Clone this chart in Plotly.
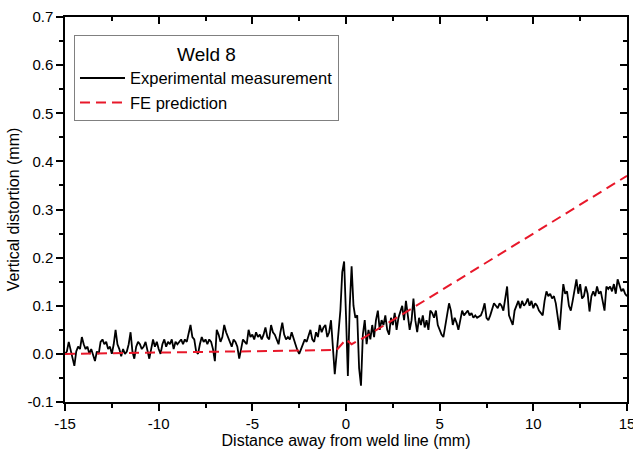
import numpy as np
import plotly.graph_objects as go

# Experimental measurement, sampled every 0.1 mm from -15 to 15 mm
exp_y = [
    # -15.0 .. -9.0
    0.000, 0.005, 0.025, 0.010, -0.005, -0.025, 0.005, 0.015, 0.010, 0.035,
    0.020, 0.010, 0.015, 0.000, 0.010, -0.005, -0.015, 0.005, 0.000, 0.025,
    0.030, 0.020, 0.025, 0.010, 0.015, 0.000, 0.020, 0.050, 0.020, 0.010,
    -0.005, 0.010, 0.000, 0.005, 0.020, 0.045, 0.005, -0.010, 0.015, 0.025,
    0.020, 0.010, 0.015, 0.025, 0.005, -0.010, 0.010, 0.030, 0.015, 0.025,
    0.010, 0.000, 0.020, 0.030, 0.015, 0.025, 0.020, 0.030, 0.010, 0.025,
    0.020,
    # -8.9 .. -3.0
    0.025, 0.030, 0.020, 0.030, 0.025, 0.040, 0.060, 0.035, 0.030, 0.005,
    0.000, 0.020, 0.035, 0.025, 0.030, 0.020, 0.030, 0.025, 0.010, -0.015,
    0.050, 0.040, 0.025, 0.035, 0.060, 0.045, 0.035, 0.025, 0.015, 0.030,
    0.025, 0.015, -0.010, 0.010, 0.030, 0.025, 0.020, 0.050, 0.035, 0.040,
    0.030, 0.045, 0.035, 0.040, 0.030, 0.040, 0.055, 0.035, 0.030, 0.060,
    0.045, 0.040, 0.030, 0.020, 0.045, 0.065, 0.040, 0.030, 0.035, 0.030,
    # -2.9 .. 3.0
    0.045, 0.030, 0.020, 0.008, 0.000, 0.010, 0.020, 0.030, 0.025, 0.040,
    0.050, 0.030, 0.025, 0.045, 0.035, 0.060, 0.045, 0.055, 0.060, 0.035,
    0.045, 0.070, 0.020, -0.042, 0.000, 0.040, 0.090, 0.170, 0.192, 0.080,
    -0.046, 0.100, 0.182, 0.100, 0.075, 0.080, -0.030, -0.066, 0.040, 0.070,
    0.020, 0.050, 0.030, 0.060, 0.035, 0.070, 0.090, 0.050, 0.070, 0.060,
    0.080, 0.050, 0.040, 0.075, 0.060, 0.085, 0.050, 0.075, 0.090, 0.100,
    # 3.1 .. 9.0
    0.070, 0.110, 0.080, 0.050, 0.070, 0.115, 0.070, 0.045, 0.075, 0.060,
    0.080, 0.055, 0.070, 0.050, 0.090, 0.085, 0.075, 0.090, 0.060, 0.050,
    0.040, 0.035, 0.060, 0.080, 0.105, 0.090, 0.060, 0.075, 0.065, 0.050,
    0.070, 0.090, 0.080, 0.085, 0.090, 0.080, 0.085, 0.075, 0.080, 0.075,
    0.078, 0.080, 0.090, 0.105, 0.075, 0.070, 0.080, 0.095, 0.105, 0.100,
    0.095, 0.105, 0.100, 0.090, 0.120, 0.140, 0.080, 0.070, 0.060, 0.090,
    # 9.1 .. 15.0
    0.100, 0.110, 0.095, 0.110, 0.100, 0.105, 0.115, 0.100, 0.110, 0.095,
    0.105, 0.100, 0.090, 0.085, 0.080, 0.110, 0.130, 0.120, 0.125, 0.115,
    0.120, 0.105, 0.075, 0.050, 0.100, 0.145, 0.125, 0.130, 0.100, 0.090,
    0.110, 0.130, 0.155, 0.125, 0.145, 0.115, 0.120, 0.140, 0.125, 0.088,
    0.120, 0.130, 0.120, 0.140, 0.125, 0.130, 0.110, 0.090, 0.140, 0.135,
    0.140, 0.130, 0.145, 0.125, 0.155, 0.140, 0.130, 0.135, 0.125, 0.120,
]
exp_x = list(np.round(np.linspace(-15, 15, len(exp_y)), 2))

# FE prediction
fe_x = [-15.0, -0.5, 0.0, 0.3, 1.0, 3.0, 15.0]
fe_y = [0.000, 0.008, 0.030, 0.020, 0.035, 0.082, 0.370]

x_ticks = [-15, -10, -5, 0, 5, 10, 15]
x_tick_labels = ["-15", "-10", "-5", "0", "5", "10", "15"]
y_ticks = [-0.1, 0.0, 0.1, 0.2, 0.3, 0.4, 0.5, 0.6, 0.7]
y_tick_labels = ["-0.1", "0.0", "0.1", "0.2", "0.3", "0.4", "0.5", "0.6", "0.7"]

FONT = "Liberation Sans, Arial, sans-serif"

fig = go.Figure()
fig.add_trace(go.Scatter(x=exp_x, y=exp_y, mode="lines",
                         name="Experimental measurement",
                         line=dict(color="black", width=1.8)))
fig.add_trace(go.Scatter(x=fe_x, y=fe_y, mode="lines", name="FE prediction",
                         line=dict(color="#e8182a", width=2, dash="10px,6px")))
# invisible trace to carry the mirrored (inside-tick) top/right axes
fig.add_trace(go.Scatter(x=fe_x, y=fe_y, xaxis="x2", yaxis="y2", mode="lines",
                         line=dict(color="rgba(0,0,0,0)"), showlegend=False,
                         hoverinfo="skip"))

axis_common = dict(showgrid=False, zeroline=False, linecolor="black",
                   linewidth=1.5, tickcolor="black", tickwidth=1.5)

fig.update_layout(
    width=633, height=455,
    margin=dict(l=65, r=6, t=17, b=53),
    plot_bgcolor="white", paper_bgcolor="white",
    font=dict(family=FONT, color="black", size=15),
    showlegend=True,
    legend=dict(x=0.016, y=0.953, xanchor="left", yanchor="top",
                bordercolor="#808080", borderwidth=1, bgcolor="white",
                font=dict(size=16.5, family=FONT),
                title=dict(text="Weld 8", side="top center",
                           font=dict(size=19, family=FONT)),
                tracegroupgap=0, itemwidth=45),
    xaxis=dict(range=[-15, 15], tickvals=x_ticks, ticktext=x_tick_labels,
               ticks="outside", ticklen=7, ticklabeloverflow="allow",
               showline=True, mirror=True, automargin=False,
               minor=dict(dtick=2.5, ticks="outside", ticklen=4,
                          tickcolor="black", tickwidth=1.5),
               tickfont=dict(size=15),
               title=dict(text="Distance away from weld line (mm)",
                          font=dict(size=16), standoff=4),
               **axis_common),
    yaxis=dict(range=[-0.1, 0.7], tickvals=y_ticks, ticktext=y_tick_labels,
               ticks="outside", ticklen=7, showline=True, mirror=True,
               automargin=False, ticklabeloverflow="allow",
               minor=dict(dtick=0.05, ticks="outside", ticklen=4,
                          tickcolor="black", tickwidth=1.5),
               tickfont=dict(size=15),
               title=dict(text="Vertical distortion (mm)",
                          font=dict(size=16), standoff=4),
               **axis_common),
    xaxis2=dict(range=[-15, 15], overlaying="x", side="top", anchor="y",
                tickvals=x_ticks, ticks="inside", ticklen=7,
                showticklabels=False, showline=False,
                minor=dict(dtick=2.5, ticks="inside", ticklen=4,
                           tickcolor="black", tickwidth=1.5),
                showgrid=False, zeroline=False, tickcolor="black",
                tickwidth=1.5),
    yaxis2=dict(range=[-0.1, 0.7], overlaying="y", side="right", anchor="x",
                tickvals=y_ticks, ticks="inside", ticklen=7,
                showticklabels=False, showline=False,
                minor=dict(dtick=0.05, ticks="inside", ticklen=4,
                           tickcolor="black", tickwidth=1.5),
                showgrid=False, zeroline=False, tickcolor="black",
                tickwidth=1.5),
)

fig.write_html("out.html", config={"displayModeBar": False},
               post_script="document.body.style.margin='0';")
